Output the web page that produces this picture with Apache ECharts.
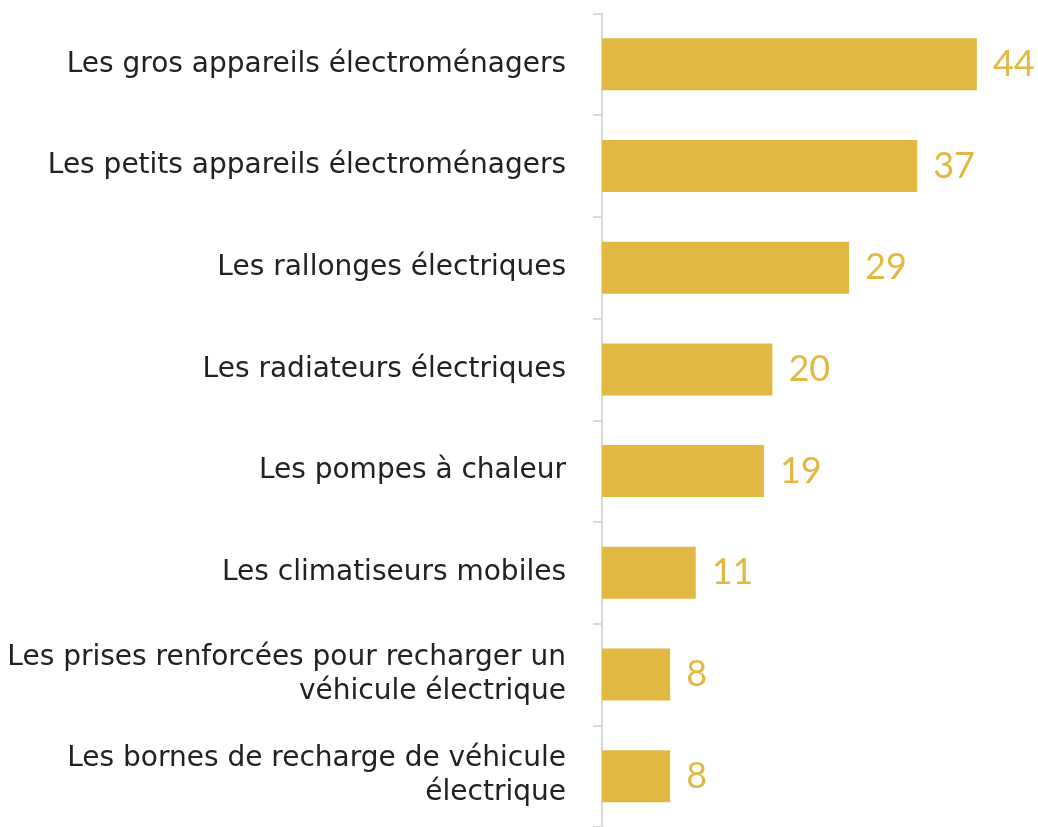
<!DOCTYPE html>
<html lang="fr">
<head>
<meta charset="UTF-8">
<title>Appareils électriques</title>
<script src="https://cdn.jsdelivr.net/npm/echarts@6/dist/echarts.min.js"></script>
<style>
  html, body { margin: 0; padding: 0; background: #fff; }
  #chart { width: 1038px; height: 827px; }
</style>
</head>
<body>
<div id="chart"></div>
<script>
const categories = [
    "Les gros appareils électroménagers",
    "Les petits appareils électroménagers",
    "Les rallonges électriques",
    "Les radiateurs électriques",
    "Les pompes à chaleur",
    "Les climatiseurs mobiles",
    "Les prises renforcées pour recharger un\nvéhicule électrique",
    "Les bornes de recharge de véhicule\nélectrique"
];
const values = [44, 37, 29, 20, 19, 11, 8, 8];

const gold = '#E1B942';

const chart = echarts.init(document.getElementById('chart'));
chart.setOption({
    animation: false,
    grid: { left: 602, top: 13.5, width: 426, height: 817, containLabel: false },
    xAxis: {
        type: 'value', min: 0, max: 50, show: false
    },
    yAxis: {
        type: 'category',
        inverse: true,
        data: categories,
        axisLine: { show: true, lineStyle: { color: '#d9d9d9', width: 2 } },
        axisTick: { show: true, length: 9, lineStyle: { color: '#d9d9d9', width: 2 } },
        axisLabel: {
            color: '#222222',
            fontFamily: 'DejaVu Sans',
            fontSize: 28,
            lineHeight: 34,
            margin: 36,
            align: 'right'
        }
    },
    series: [{
        type: 'bar',
        data: values,
        barWidth: 52,
        itemStyle: { color: gold },
        label: {
            show: true,
            position: 'right',
            distance: 16,
            color: gold,
            fontFamily: 'Lato',
            fontSize: 36
        }
    }]
});
</script>
</body>
</html>
